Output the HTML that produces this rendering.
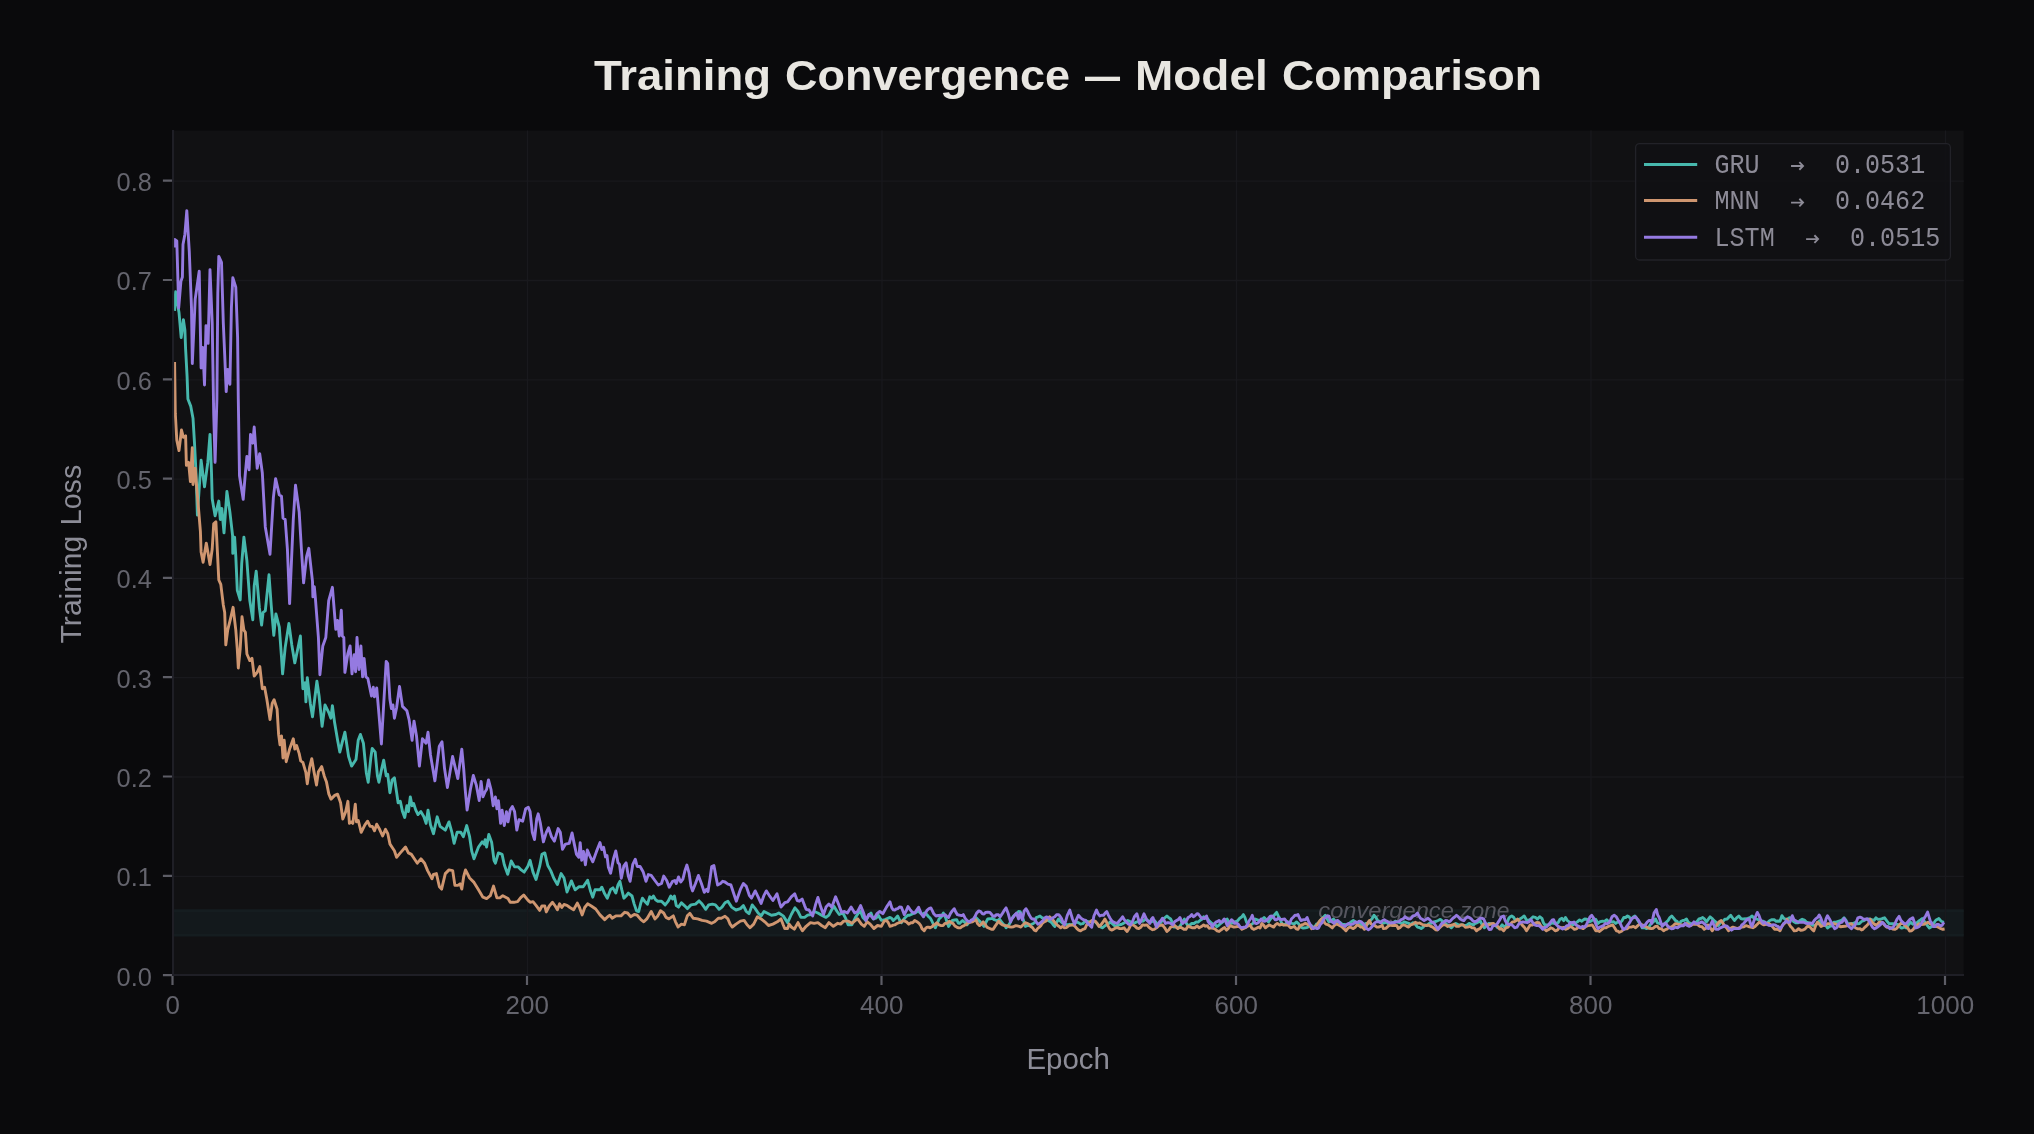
<!DOCTYPE html>
<html><head><meta charset="utf-8"><title>Training Convergence</title>
<style>
html,body{margin:0;padding:0;background:#0a0a0c;}
body{width:2034px;height:1134px;overflow:hidden;font-family:"Liberation Sans",sans-serif;}
svg{display:block;will-change:transform;}
text{font-family:"Liberation Sans",sans-serif;}
.mono{font-family:"Liberation Mono",monospace;}
</style></head><body>
<svg width="2034" height="1134" viewBox="0 0 2034 1134">
<rect x="0" y="0" width="2034" height="1134" fill="#0a0a0c"/>
<rect x="173.0" y="130.6" width="1790.7" height="845.0" fill="#111113"/>

<rect x="173.0" y="910.6" width="1790.7" height="24.7" fill="#13191c"/>
<path d="M173.0 910.6H1963.7M173.0 935.3H1963.7" stroke="#151d20" stroke-width="2.6" fill="none"/>
<path d="M527.5 130.6V975.6M882.0 130.6V975.6M1236.5 130.6V975.6M1591.0 130.6V975.6M1945.5 130.6V975.6M173.0 876.3H1963.7M173.0 777.0H1963.7M173.0 677.7H1963.7M173.0 578.4H1963.7M173.0 479.1H1963.7M173.0 379.8H1963.7M173.0 280.5H1963.7M173.0 181.2H1963.7" stroke="#19191d" stroke-width="1.3" fill="none"/>
<text x="1318.3" y="917.7" font-size="21.2" font-style="italic" fill="#56565f" textLength="135.5" lengthAdjust="spacingAndGlyphs">convergence</text>
<text x="1460.0" y="917.7" font-size="21.2" font-style="italic" fill="#56565f" textLength="49.5" lengthAdjust="spacingAndGlyphs">zone</text>
<g fill="none" stroke-width="2.9" stroke-linejoin="round" stroke-linecap="butt">
<path d="M174.6 310.9 L175.6 291.8 L179.0 312.4 L181.2 337.5 L183.4 319.8 L184.9 330.1 L185.6 348.8 L187.1 376.9 L187.9 399.0 L190.8 406.4 L193.0 418.2 L194.5 443.2 L196.0 472.7 L197.4 515.1 L201.1 460.2 L204.5 486.8 L207.8 462.4 L210.0 434.4 L211.5 472.7 L212.2 498.8 L215.1 515.8 L218.8 501.1 L220.3 519.5 L221.8 508.4 L224.0 532.8 L226.9 491.5 L229.9 512.1 L232.6 535.7 L232.8 553.4 L234.6 537.2 L235.8 556.4 L237.3 590.3 L240.2 599.9 L241.7 563.7 L243.9 537.2 L246.9 560.8 L249.8 600.6 L252.8 619.8 L254.2 585.9 L256.2 571.1 L259.4 608.0 L261.6 625.0 L263.1 612.4 L265.3 610.9 L269.0 574.8 L271.2 605.0 L273.8 635.3 L275.9 613.9 L279.3 627.2 L281.5 657.0 L282.6 673.9 L285.2 647.4 L288.9 623.5 L291.8 644.9 L294.8 662.9 L297.7 649.3 L300.4 636.0 L302.2 676.9 L302.9 688.7 L305.1 682.8 L305.9 701.9 L307.3 677.6 L310.3 703.4 L312.5 716.7 L314.7 699.0 L316.9 681.3 L319.1 696.0 L322.1 726.3 L325.0 704.9 L328.7 712.3 L330.9 718.2 L332.4 705.6 L334.6 722.6 L337.6 740.3 L339.8 752.1 L342.7 740.3 L344.9 732.2 L348.6 756.5 L351.6 766.1 L356.0 759.5 L358.2 740.3 L360.4 734.4 L363.4 743.2 L366.3 772.7 L368.2 782.3 L370.8 758.0 L372.2 748.4 L375.2 752.1 L377.4 775.7 L378.9 782.3 L381.8 768.3 L383.7 760.2 L386.2 775.7 L387.7 774.2 L389.9 792.7 L392.1 780.1 L394.4 777.7 L396.6 792.4 L398.1 802.8 L400.3 801.3 L402.5 811.6 L404.7 817.5 L406.9 805.7 L408.4 811.6 L410.3 796.9 L412.1 805.7 L413.6 803.5 L415.8 810.1 L418.0 814.6 L420.9 811.6 L423.9 816.8 L426.1 823.4 L428.0 810.1 L430.5 824.9 L433.5 833.7 L437.2 816.8 L440.1 826.4 L445.3 830.1 L449.0 821.9 L451.9 832.3 L454.1 843.3 L457.1 832.3 L460.8 832.3 L463.4 836.7 L466.7 825.6 L469.6 836.7 L471.8 851.4 L474.0 858.8 L478.5 847.0 L482.2 841.9 L484.4 844.1 L485.1 839.6 L486.6 847.0 L488.8 834.5 L491.7 842.6 L494.0 860.3 L495.4 863.2 L498.4 852.9 L502.1 854.4 L504.3 864.7 L507.7 874.3 L511.2 861.0 L514.6 866.9 L518.3 866.9 L521.2 869.9 L524.2 872.1 L527.9 866.2 L530.1 860.3 L533.0 872.1 L536.0 879.5 L539.7 866.2 L541.9 854.4 L544.8 852.9 L547.8 865.5 L550.7 870.6 L553.7 878.0 L557.4 884.6 L561.1 873.6 L564.0 878.0 L567.0 892.0 L571.4 880.9 L575.1 889.8 L578.8 886.8 L583.2 886.8 L587.6 880.2 L590.6 891.3 L592.8 897.2 L595.0 889.8 L600.0 889.8 L601.8 887.2 L604.7 893.8 L607.3 898.2 L610.6 889.4 L612.9 887.9 L615.8 893.1 L618.0 885.0 L619.9 881.3 L621.7 889.4 L623.9 898.2 L626.1 896.0 L628.3 893.1 L632.0 896.0 L634.2 904.1 L636.5 910.8 L638.7 911.5 L640.9 902.7 L642.4 898.2 L644.6 901.2 L647.5 904.1 L649.7 896.8 L651.9 898.2 L653.4 896.0 L655.6 899.7 L657.8 901.2 L661.5 901.2 L665.2 904.9 L668.2 901.2 L670.8 896.0 L672.6 899.0 L674.4 896.0 L676.3 905.6 L678.5 907.1 L681.4 902.7 L684.4 905.6 L687.3 908.6 L691.0 904.9 L695.5 904.1 L699.1 900.9 L702.1 904.1 L705.8 909.3 L708.7 904.9 L712.4 904.1 L715.4 904.9 L719.1 909.3 L722.0 907.1 L725.0 902.7 L727.9 901.2 L731.6 907.1 L736.0 910.0 L740.4 908.6 L743.4 905.6 L746.3 911.5 L749.0 913.7 L752.2 904.9 L755.2 908.6 L758.1 913.0 L761.1 915.9 L764.0 911.5 L767.0 913.0 L771.4 915.2 L775.8 914.5 L778.8 913.0 L783.2 915.9 L787.6 922.6 L791.3 914.5 L795.0 907.8 L798.0 911.5 L800.9 917.4 L804.6 917.4 L807.6 915.2 L811.2 914.5 L814.2 911.5 L817.9 913.0 L821.6 915.2 L826.0 917.4 L828.9 915.2 L831.9 909.3 L834.1 906.4 L837.1 911.5 L839.3 914.5 L842.9 913.0 L845.9 918.9 L848.1 924.8 L851.8 924.8 L855.5 917.4 L858.4 913.0 L860.6 911.5 L862.9 917.4 L865.8 920.4 L869.5 914.5 L871.0 913.0 L873.2 918.9 L876.1 918.2 L878.3 915.2 L881.3 920.4 L885.0 919.6 L890.0 917.4 L891.6 918.3 L893.3 920.5 L895.5 918.5 L897.7 916.0 L899.5 919.9 L901.4 922.7 L903.6 919.5 L905.8 916.8 L907.7 915.3 L909.5 915.3 L911.7 914.2 L913.9 913.1 L916.1 912.3 L918.3 910.9 L920.6 913.3 L922.8 914.6 L924.2 913.1 L926.5 914.3 L928.7 916.8 L930.1 917.9 L931.6 920.5 L933.5 924.5 L935.3 927.8 L937.2 923.7 L939.0 919.0 L941.2 916.9 L943.4 913.1 L945.6 917.5 L947.1 922.5 L948.6 926.4 L950.4 923.4 L952.3 920.5 L954.5 920.0 L956.7 919.7 L958.2 923.0 L959.6 923.4 L961.1 921.8 L962.6 920.5 L964.8 922.3 L967.0 924.9 L969.2 922.1 L971.4 920.5 L973.7 919.0 L975.9 917.5 L978.1 919.8 L980.3 921.9 L982.1 924.0 L984.0 926.4 L985.8 922.7 L987.7 919.0 L989.9 918.8 L992.1 918.3 L994.3 919.7 L996.5 920.5 L998.0 920.3 L999.5 919.0 L1001.3 921.7 L1003.2 924.2 L1004.6 925.0 L1006.1 927.8 L1007.9 926.0 L1009.8 923.4 L1011.6 919.0 L1013.5 916.0 L1015.3 914.5 L1017.2 913.1 L1018.6 911.5 L1020.1 911.6 L1021.6 915.3 L1023.1 919.0 L1025.3 926.4 L1027.1 925.6 L1029.0 925.6 L1031.2 924.6 L1033.4 923.4 L1034.9 922.3 L1036.3 917.5 L1038.2 916.8 L1040.0 916.0 L1041.9 917.6 L1043.7 918.3 L1045.9 918.6 L1048.1 920.5 L1050.0 921.4 L1051.8 922.7 L1053.3 924.9 L1054.8 926.4 L1056.6 922.6 L1058.5 919.0 L1060.7 921.4 L1062.9 923.4 L1065.1 924.2 L1067.3 924.9 L1069.5 924.3 L1071.7 924.9 L1074.0 923.7 L1076.2 921.9 L1078.4 922.6 L1080.6 924.2 L1082.8 923.7 L1085.0 921.2 L1087.2 921.3 L1089.4 921.9 L1091.7 921.6 L1093.9 920.5 L1096.1 922.7 L1098.3 924.9 L1100.5 926.9 L1102.7 927.8 L1104.6 926.0 L1106.4 924.9 L1108.2 924.0 L1110.1 921.9 L1112.3 923.7 L1114.5 925.6 L1116.7 926.0 L1118.9 924.9 L1121.2 924.5 L1123.4 923.4 L1125.6 922.0 L1127.8 920.5 L1130.0 921.5 L1132.2 923.4 L1134.4 923.1 L1136.6 921.9 L1138.8 921.8 L1141.1 921.2 L1143.3 921.0 L1145.5 919.0 L1147.7 920.3 L1149.9 921.9 L1152.1 921.5 L1154.3 920.5 L1156.5 923.0 L1158.8 924.9 L1161.0 922.1 L1163.2 919.0 L1165.0 917.6 L1166.9 916.0 L1168.7 917.6 L1170.6 919.0 L1172.4 922.7 L1174.2 927.1 L1176.1 926.9 L1177.9 927.8 L1180.0 926.4 L1182.2 922.4 L1184.4 919.0 L1185.9 922.4 L1187.4 924.9 L1189.6 925.4 L1191.8 923.4 L1194.0 923.5 L1196.2 921.9 L1198.1 922.1 L1199.9 920.5 L1201.8 919.3 L1203.6 916.8 L1205.4 918.1 L1207.3 918.3 L1209.1 920.6 L1211.0 922.7 L1213.2 924.4 L1215.4 924.9 L1216.9 926.7 L1218.3 925.6 L1220.6 923.5 L1222.8 921.9 L1225.0 919.9 L1227.2 919.0 L1229.0 922.8 L1230.9 923.4 L1233.1 922.9 L1235.3 921.9 L1237.5 920.9 L1239.7 918.3 L1241.6 917.1 L1243.4 914.6 L1244.9 917.4 L1246.4 921.9 L1248.6 925.4 L1250.8 924.9 L1253.0 923.4 L1255.2 919.0 L1257.4 919.9 L1259.6 920.5 L1261.9 919.6 L1264.1 917.5 L1266.3 919.8 L1268.5 921.9 L1270.7 918.7 L1272.9 916.8 L1274.8 914.5 L1276.6 912.4 L1278.1 915.6 L1279.6 918.3 L1281.4 922.5 L1283.2 924.9 L1285.5 924.0 L1287.7 921.9 L1289.9 922.7 L1292.1 923.4 L1294.3 923.8 L1296.5 921.9 L1298.7 923.9 L1300.9 927.1 L1303.2 928.1 L1305.4 927.8 L1307.6 927.3 L1309.8 924.9 L1312.0 926.1 L1314.2 927.8 L1316.4 924.2 L1318.6 923.4 L1320.9 919.7 L1323.1 917.5 L1325.3 915.3 L1327.1 918.8 L1329.0 921.9 L1331.2 920.9 L1333.4 919.0 L1335.6 921.7 L1337.8 921.9 L1340.0 922.2 L1342.2 924.2 L1344.5 924.5 L1346.7 924.9 L1348.9 923.9 L1351.1 921.9 L1353.3 920.5 L1355.1 921.8 L1357.0 923.4 L1359.2 922.3 L1361.4 924.9 L1363.6 924.8 L1365.8 923.4 L1368.1 923.8 L1370.3 920.5 L1372.1 918.7 L1374.0 915.3 L1375.8 917.2 L1377.6 920.5 L1379.9 921.6 L1382.1 923.4 L1384.3 922.9 L1386.5 921.9 L1388.7 924.7 L1390.9 923.4 L1393.1 922.8 L1395.3 921.2 L1397.6 922.0 L1399.8 922.7 L1402.0 923.6 L1404.2 921.9 L1406.4 922.6 L1408.6 923.4 L1410.8 924.5 L1413.0 922.7 L1415.3 924.3 L1417.5 927.1 L1419.3 927.5 L1421.2 928.6 L1423.0 927.3 L1424.8 924.9 L1427.1 925.3 L1429.3 923.4 L1431.5 923.2 L1433.7 921.9 L1435.9 921.5 L1438.1 920.5 L1440.3 919.4 L1442.5 921.2 L1444.7 922.5 L1447.0 924.9 L1449.2 925.9 L1451.4 927.8 L1453.6 925.2 L1455.8 923.4 L1458.0 924.6 L1460.2 924.9 L1462.4 925.0 L1464.7 925.6 L1466.9 925.2 L1469.1 923.4 L1471.3 924.2 L1473.5 924.9 L1475.1 923.5 L1476.8 922.8 L1478.4 921.9 L1480.0 920.5 L1482.2 924.8 L1484.4 927.8 L1486.6 925.3 L1488.8 923.4 L1491.1 924.0 L1493.3 924.9 L1495.5 925.3 L1497.7 927.8 L1499.9 927.7 L1502.1 924.9 L1504.0 926.8 L1505.8 926.4 L1507.3 922.2 L1508.8 918.3 L1510.2 916.8 L1511.7 916.0 L1513.6 917.3 L1515.4 920.5 L1517.6 919.9 L1519.8 919.0 L1522.0 917.7 L1524.2 916.0 L1526.5 920.0 L1528.7 920.5 L1530.9 918.8 L1533.1 916.8 L1535.3 917.3 L1537.5 919.0 L1539.7 916.7 L1541.9 918.3 L1543.4 922.7 L1544.9 924.9 L1547.1 925.0 L1549.3 924.9 L1551.5 922.9 L1553.7 923.4 L1556.0 923.2 L1558.2 922.7 L1560.0 919.2 L1561.9 918.3 L1563.7 920.7 L1565.5 917.5 L1567.4 920.6 L1569.2 921.9 L1571.1 923.9 L1572.9 924.9 L1575.1 923.3 L1577.3 921.9 L1579.6 919.9 L1581.8 921.2 L1583.2 920.0 L1584.7 919.0 L1586.9 919.2 L1589.1 921.9 L1591.4 920.9 L1593.6 919.0 L1595.8 919.5 L1598.0 923.4 L1600.2 921.6 L1602.4 921.2 L1604.6 921.4 L1606.8 919.7 L1609.1 922.2 L1611.3 921.9 L1613.5 921.7 L1615.7 923.4 L1617.9 921.8 L1620.1 922.7 L1622.0 920.8 L1623.8 917.5 L1625.6 917.5 L1627.5 916.0 L1629.3 917.1 L1631.2 919.7 L1633.0 917.3 L1634.9 916.0 L1636.7 918.4 L1638.6 921.9 L1640.4 923.9 L1642.2 927.8 L1644.5 927.7 L1646.7 928.6 L1648.9 927.0 L1651.1 923.4 L1653.3 921.8 L1655.5 919.0 L1657.4 922.9 L1659.2 923.4 L1661.4 924.1 L1663.6 924.9 L1665.8 922.6 L1668.1 920.5 L1669.9 917.5 L1671.7 916.0 L1673.6 918.2 L1675.4 920.5 L1677.3 921.6 L1679.1 924.9 L1681.0 921.3 L1682.8 920.5 L1684.6 920.3 L1686.5 919.0 L1688.3 922.4 L1690.2 923.4 L1692.4 923.7 L1694.6 922.7 L1696.8 921.9 L1699.0 919.0 L1700.9 918.5 L1702.7 917.5 L1704.6 919.2 L1706.4 921.9 L1708.2 919.4 L1710.1 916.8 L1711.9 918.3 L1713.8 920.5 L1716.0 922.2 L1718.2 925.6 L1720.4 922.4 L1722.6 921.9 L1724.8 919.3 L1727.1 919.0 L1728.9 917.1 L1730.7 915.3 L1732.6 918.0 L1734.4 920.5 L1736.6 917.9 L1738.8 916.0 L1741.1 918.7 L1743.3 919.0 L1745.5 918.8 L1747.7 918.3 L1749.9 917.6 L1752.1 916.0 L1754.3 918.5 L1756.5 919.0 L1758.8 919.8 L1761.0 921.9 L1763.2 921.1 L1765.4 923.4 L1767.6 922.5 L1769.8 920.5 L1772.0 919.6 L1774.2 919.7 L1776.2 921.3 L1778.1 921.0 L1780.0 921.2 L1781.9 915.7 L1783.7 918.3 L1785.6 919.3 L1787.4 919.2 L1789.2 917.8 L1791.3 918.0 L1793.5 921.5 L1795.7 922.8 L1797.8 922.9 L1800.0 920.6 L1802.2 919.3 L1804.4 920.1 L1806.5 922.2 L1808.7 922.9 L1810.9 924.4 L1813.0 925.3 L1815.2 925.1 L1817.4 923.6 L1819.5 920.7 L1821.7 923.7 L1823.9 925.1 L1825.7 925.2 L1827.5 928.0 L1829.7 926.4 L1831.8 925.8 L1834.0 922.1 L1836.2 922.2 L1838.3 921.4 L1840.5 920.7 L1842.3 919.8 L1844.1 917.8 L1845.9 920.1 L1847.7 923.6 L1849.9 923.8 L1852.1 923.6 L1853.9 923.1 L1855.7 922.2 L1857.5 923.7 L1859.3 923.6 L1861.5 921.5 L1863.6 920.7 L1865.8 919.4 L1868.0 919.3 L1870.2 919.0 L1872.3 920.0 L1874.1 920.3 L1875.9 917.8 L1878.1 919.4 L1880.3 919.3 L1882.4 918.5 L1884.6 917.8 L1886.8 920.9 L1889.0 923.6 L1891.1 923.7 L1893.3 923.6 L1895.5 924.2 L1897.6 924.4 L1899.4 926.0 L1901.2 928.0 L1902.9 927.7 L1904.6 927.0 L1906.3 928.0 L1908.5 924.6 L1910.6 922.2 L1912.8 924.2 L1915.0 923.6 L1917.2 922.6 L1919.3 920.7 L1920.8 919.7 L1922.2 918.6 L1924.0 920.9 L1925.8 923.6 L1927.6 925.8 L1929.4 928.0 L1931.3 926.8 L1933.1 925.1 L1934.5 922.0 L1936.0 920.0 L1937.4 919.4 L1938.8 918.6 L1940.3 920.2 L1941.7 921.5 L1943.9 922.3" stroke="#47b8ad"/>
<path d="M174.6 362.1 L175.3 413.7 L176.8 440.3 L179.0 450.6 L181.5 430.0 L183.4 437.3 L185.6 435.9 L186.4 465.4 L188.6 462.4 L190.4 481.6 L192.3 447.7 L193.0 484.5 L195.2 468.3 L196.7 487.5 L198.2 504.7 L200.4 531.3 L201.1 551.9 L203.1 562.3 L206.3 543.1 L210.0 564.5 L212.2 549.0 L213.7 523.9 L215.9 521.7 L217.4 551.9 L218.8 580.0 L220.8 584.4 L223.3 605.0 L224.7 612.4 L225.8 644.9 L227.7 630.1 L230.6 618.3 L233.1 607.3 L235.8 630.1 L237.3 649.3 L238.3 668.0 L240.2 648.8 L242.0 616.8 L243.9 630.1 L245.4 632.3 L246.9 654.0 L249.8 660.6 L252.0 658.4 L254.2 676.1 L257.2 672.4 L259.8 666.5 L262.3 688.7 L264.6 687.2 L266.8 699.0 L270.0 719.6 L272.2 703.4 L274.1 699.7 L277.1 709.3 L278.6 734.4 L280.0 744.7 L281.5 735.9 L283.0 758.0 L284.2 740.3 L286.2 761.7 L289.6 749.1 L293.3 738.8 L294.8 749.1 L296.6 745.5 L299.2 753.6 L300.7 760.9 L302.9 762.4 L305.9 772.7 L307.3 783.8 L309.6 767.4 L311.8 758.7 L314.0 771.8 L316.5 785.1 L318.4 771.8 L321.7 766.6 L324.3 776.2 L326.5 782.1 L328.8 793.9 L331.0 799.1 L334.7 795.4 L337.6 794.2 L340.6 802.8 L342.8 819.0 L345.7 811.6 L347.9 801.3 L349.4 823.4 L351.6 821.9 L352.8 823.4 L355.3 804.2 L356.5 821.9 L358.3 820.5 L361.2 832.3 L364.9 824.9 L367.6 821.2 L370.1 826.4 L372.3 826.4 L374.5 830.8 L376.7 824.2 L379.6 829.3 L382.6 836.0 L385.5 829.3 L387.8 833.7 L390.0 844.1 L392.9 848.5 L394.4 850.7 L396.6 857.3 L400.3 852.9 L405.5 847.0 L408.4 852.9 L411.4 854.4 L414.3 858.8 L417.3 863.2 L420.9 858.8 L424.6 863.2 L427.6 870.6 L432.0 878.7 L433.5 874.3 L436.4 873.6 L439.4 886.8 L441.6 889.1 L445.3 873.6 L449.0 869.9 L452.7 870.6 L454.9 885.4 L457.8 885.4 L460.0 883.9 L461.8 889.1 L463.7 876.5 L465.5 869.9 L469.6 878.0 L474.0 882.4 L478.5 889.8 L482.9 897.2 L486.6 898.6 L490.3 895.7 L493.5 886.1 L496.9 897.9 L499.9 897.9 L502.8 895.7 L508.0 898.6 L510.2 902.3 L513.9 902.3 L517.6 901.6 L520.5 897.9 L523.7 895.0 L527.9 900.1 L530.1 902.3 L533.0 901.6 L536.0 905.3 L539.7 910.4 L541.9 906.0 L544.8 906.0 L546.3 911.9 L549.3 906.0 L552.5 902.3 L555.2 906.0 L557.4 909.7 L559.6 903.8 L561.8 907.5 L564.0 904.5 L567.0 905.3 L569.9 907.5 L573.6 909.7 L577.3 903.1 L579.5 907.5 L582.2 914.9 L584.7 907.5 L587.6 903.8 L591.3 906.0 L595.7 909.0 L600.0 914.9 L602.5 917.4 L604.7 919.6 L607.7 916.7 L609.9 915.2 L612.1 918.2 L615.8 915.9 L621.0 915.9 L624.7 912.3 L627.6 913.0 L630.6 916.7 L634.2 914.5 L637.2 915.2 L640.9 919.6 L643.8 921.8 L646.8 918.9 L651.2 911.5 L654.9 918.9 L657.8 915.9 L660.5 910.8 L663.7 913.0 L666.0 917.4 L668.9 918.9 L673.3 915.9 L675.5 921.8 L678.1 927.0 L681.4 924.1 L684.4 924.8 L687.3 915.9 L689.9 913.4 L693.2 918.2 L697.7 918.9 L702.1 920.4 L706.5 921.1 L711.7 923.3 L714.6 921.8 L718.3 918.2 L721.3 918.2 L725.0 916.2 L727.9 918.9 L730.1 924.1 L732.3 927.0 L736.0 924.1 L740.4 921.1 L744.1 920.4 L747.1 924.8 L750.0 927.7 L753.7 924.1 L757.4 916.7 L761.1 918.9 L764.8 921.8 L768.5 925.5 L772.9 924.1 L777.3 921.8 L781.0 918.9 L783.2 924.8 L784.7 928.5 L787.6 928.5 L789.1 924.1 L791.3 927.0 L794.3 929.2 L798.0 922.6 L800.2 927.0 L802.4 930.7 L806.1 926.3 L810.5 922.6 L814.2 923.3 L817.9 922.6 L821.6 925.5 L825.3 927.7 L828.9 922.6 L833.4 926.3 L837.8 923.3 L840.7 924.1 L843.7 921.1 L848.1 921.1 L851.8 923.3 L855.5 920.4 L857.7 918.9 L861.4 924.1 L864.3 926.3 L867.3 921.8 L870.2 924.1 L873.9 928.5 L877.6 925.5 L881.3 926.3 L884.2 921.1 L886.5 920.4 L888.2 922.5 L890.0 926.3 L891.6 925.9 L893.2 925.2 L894.7 924.9 L897.0 923.5 L899.2 922.7 L901.0 922.1 L902.9 920.5 L904.7 921.2 L906.5 921.9 L908.8 924.2 L910.7 922.8 L912.7 922.7 L914.7 920.5 L916.9 921.7 L919.1 923.4 L920.6 925.3 L922.0 928.6 L924.2 930.8 L925.7 928.2 L927.2 927.1 L928.7 927.2 L930.1 927.8 L932.0 926.7 L933.8 924.9 L935.3 924.3 L936.8 922.7 L939.0 924.8 L941.2 925.6 L943.1 925.5 L944.9 923.4 L947.1 923.3 L949.3 921.2 L951.2 922.7 L953.0 923.4 L954.9 926.0 L956.7 927.1 L958.5 927.9 L960.4 927.8 L962.2 926.4 L964.1 925.6 L965.9 924.6 L967.8 922.7 L970.0 922.4 L972.2 921.9 L974.0 920.8 L975.9 919.7 L977.7 923.8 L979.6 925.6 L981.4 924.2 L983.2 921.9 L985.1 924.3 L986.9 927.1 L989.1 928.2 L991.4 929.3 L993.2 929.2 L995.0 926.4 L996.9 923.7 L998.7 921.2 L1000.6 923.5 L1002.4 924.9 L1004.6 925.6 L1006.8 925.6 L1009.1 926.7 L1011.3 927.1 L1013.5 926.7 L1015.7 925.6 L1017.4 925.9 L1019.1 926.4 L1020.9 927.1 L1023.1 924.8 L1025.3 922.7 L1027.1 923.3 L1029.0 924.2 L1030.8 926.5 L1032.7 927.8 L1034.3 930.2 L1035.9 930.8 L1037.6 928.5 L1039.3 927.1 L1040.8 925.6 L1042.2 923.4 L1044.1 921.8 L1045.9 921.2 L1047.8 918.6 L1049.6 916.8 L1051.5 918.5 L1053.3 920.5 L1055.1 922.8 L1057.0 924.9 L1058.8 926.2 L1060.7 927.8 L1062.5 926.4 L1064.4 927.8 L1066.6 927.5 L1068.8 925.6 L1071.0 925.1 L1073.2 924.9 L1075.1 926.4 L1076.9 928.6 L1078.7 930.1 L1080.6 930.8 L1082.8 929.4 L1085.0 928.6 L1086.5 925.2 L1088.0 923.4 L1089.8 922.3 L1091.7 920.5 L1093.5 921.1 L1095.3 921.2 L1097.2 923.4 L1099.0 926.4 L1100.5 925.4 L1102.0 923.4 L1103.5 921.4 L1104.9 919.0 L1106.4 921.7 L1107.9 925.6 L1109.7 928.9 L1111.6 930.1 L1113.8 929.1 L1116.0 927.8 L1117.8 927.6 L1119.7 928.6 L1121.9 928.5 L1124.1 927.8 L1125.6 929.8 L1127.1 931.5 L1128.9 928.8 L1130.7 924.9 L1132.9 924.9 L1135.2 926.4 L1137.0 928.1 L1138.8 928.6 L1140.7 927.3 L1142.5 924.9 L1144.7 925.3 L1147.0 924.9 L1148.8 927.1 L1150.6 928.6 L1152.5 929.7 L1154.3 929.3 L1156.5 927.9 L1158.8 925.6 L1160.6 925.4 L1162.4 924.9 L1164.7 927.8 L1166.9 931.5 L1168.7 930.0 L1170.6 927.1 L1172.4 926.6 L1174.2 924.9 L1176.1 926.9 L1177.9 928.6 L1180.0 927.1 L1182.0 928.0 L1183.9 929.2 L1185.9 929.3 L1188.1 926.2 L1190.3 927.1 L1192.5 927.8 L1194.7 927.8 L1197.0 925.9 L1199.2 927.8 L1201.4 926.6 L1203.6 924.9 L1205.4 926.2 L1207.3 925.6 L1209.1 928.3 L1211.0 927.8 L1213.2 928.2 L1215.4 929.3 L1217.2 930.8 L1219.1 931.5 L1220.9 930.0 L1222.8 928.6 L1224.6 927.6 L1226.5 930.1 L1228.3 928.5 L1230.1 925.6 L1232.0 926.4 L1233.8 927.1 L1236.0 926.8 L1238.3 926.4 L1240.1 927.1 L1241.9 929.3 L1244.2 928.2 L1246.4 927.1 L1248.2 926.1 L1250.1 924.9 L1251.9 928.2 L1253.7 929.3 L1256.0 928.5 L1258.2 927.1 L1260.0 928.1 L1261.9 923.4 L1263.7 925.3 L1265.5 927.8 L1267.4 926.2 L1269.2 924.9 L1271.4 926.0 L1273.7 927.1 L1275.5 924.6 L1277.3 923.4 L1279.6 925.1 L1281.8 924.2 L1284.0 925.1 L1286.2 924.9 L1288.4 925.4 L1290.6 927.8 L1292.5 927.2 L1294.3 926.4 L1296.2 928.8 L1298.0 929.3 L1299.8 926.0 L1301.7 924.9 L1303.5 924.3 L1305.4 923.4 L1307.6 924.4 L1309.8 925.6 L1311.6 928.7 L1313.5 927.8 L1315.3 926.7 L1317.2 924.9 L1318.6 922.4 L1320.1 920.5 L1321.6 918.9 L1323.1 918.3 L1324.5 922.8 L1326.0 924.2 L1328.2 924.9 L1330.4 926.4 L1332.3 927.9 L1334.1 925.6 L1336.3 924.0 L1338.6 924.9 L1340.4 925.9 L1342.2 927.1 L1344.1 928.8 L1345.9 930.8 L1347.8 928.4 L1349.6 927.1 L1351.5 927.7 L1353.3 928.6 L1355.1 927.3 L1357.0 924.9 L1358.8 925.5 L1360.7 927.1 L1362.5 927.1 L1364.4 929.3 L1365.8 927.5 L1367.3 923.4 L1369.5 920.5 L1371.0 923.9 L1372.5 924.9 L1374.7 925.5 L1376.9 927.1 L1378.7 927.0 L1380.6 926.4 L1382.1 925.4 L1383.5 928.6 L1385.8 928.4 L1388.0 926.4 L1390.2 925.0 L1392.4 925.6 L1394.6 925.2 L1396.8 925.6 L1398.3 928.5 L1399.8 927.8 L1402.0 925.4 L1404.2 924.9 L1406.4 926.1 L1408.6 927.1 L1410.8 924.8 L1413.0 924.2 L1415.3 922.3 L1417.5 923.4 L1419.7 922.9 L1421.9 924.2 L1424.1 925.2 L1426.3 925.6 L1428.5 925.0 L1430.7 926.4 L1432.6 927.0 L1434.4 928.6 L1435.9 929.9 L1437.4 930.1 L1439.2 928.1 L1441.1 926.4 L1443.3 924.6 L1445.5 924.9 L1447.7 926.5 L1449.9 925.6 L1452.1 925.0 L1454.3 924.2 L1456.5 926.4 L1458.8 926.4 L1461.0 924.8 L1463.2 924.9 L1465.4 927.4 L1467.6 927.1 L1469.8 926.4 L1472.0 927.8 L1474.2 927.9 L1476.5 930.8 L1478.2 929.4 L1480.0 928.6 L1482.2 925.7 L1484.4 923.4 L1486.6 924.4 L1488.8 924.9 L1491.1 923.7 L1493.3 923.4 L1495.5 925.4 L1497.7 926.4 L1499.7 929.0 L1501.6 928.8 L1503.6 930.8 L1505.8 927.9 L1508.0 927.1 L1510.2 924.2 L1512.4 921.9 L1514.2 921.7 L1515.9 920.7 L1517.6 919.0 L1519.8 921.7 L1522.0 924.9 L1524.2 927.1 L1526.5 930.8 L1528.3 927.9 L1530.1 924.9 L1532.4 925.0 L1534.6 923.4 L1536.8 922.5 L1539.0 922.7 L1541.2 926.4 L1543.4 927.8 L1544.9 929.5 L1546.4 930.8 L1548.6 929.6 L1550.8 927.8 L1553.0 928.8 L1555.2 930.8 L1557.4 930.1 L1559.6 927.1 L1561.6 927.9 L1563.6 927.4 L1565.5 929.3 L1567.8 928.5 L1570.0 926.4 L1572.2 927.5 L1574.4 929.3 L1576.6 928.8 L1578.8 926.4 L1581.0 927.6 L1583.2 928.6 L1585.5 926.6 L1587.7 925.6 L1589.9 925.4 L1592.1 924.9 L1593.9 927.5 L1595.8 930.8 L1597.6 930.5 L1599.5 931.5 L1601.7 929.7 L1603.9 927.8 L1606.1 927.8 L1608.3 926.4 L1610.5 925.7 L1612.7 924.9 L1614.6 927.8 L1616.4 930.8 L1617.9 931.1 L1619.4 932.3 L1621.6 931.3 L1623.8 929.3 L1625.5 928.8 L1627.2 928.7 L1629.0 927.1 L1631.2 927.1 L1633.4 926.4 L1635.6 927.8 L1637.8 925.6 L1640.0 924.0 L1642.2 924.9 L1644.5 926.0 L1646.7 927.1 L1648.9 928.3 L1651.1 928.6 L1653.3 928.2 L1655.5 926.4 L1657.4 926.3 L1659.2 928.6 L1661.4 928.7 L1663.6 930.8 L1665.3 929.6 L1667.1 929.2 L1668.8 927.1 L1671.0 927.3 L1673.2 925.6 L1675.4 923.7 L1677.6 924.2 L1679.9 924.7 L1682.1 924.9 L1684.3 925.1 L1686.5 923.4 L1688.7 924.6 L1690.9 925.6 L1693.1 924.1 L1695.3 924.2 L1697.6 924.7 L1699.8 926.4 L1702.0 926.8 L1704.2 929.3 L1706.0 928.1 L1707.9 924.9 L1710.1 927.7 L1712.3 930.8 L1714.5 927.5 L1716.7 924.9 L1718.9 922.0 L1721.2 920.5 L1723.0 923.3 L1724.8 926.4 L1726.7 927.9 L1728.5 930.8 L1730.7 928.2 L1732.9 927.1 L1735.2 927.8 L1737.4 928.6 L1739.6 927.7 L1741.8 927.1 L1744.0 926.8 L1746.2 925.6 L1748.4 926.5 L1750.6 927.1 L1752.9 927.7 L1755.1 926.4 L1757.3 924.2 L1759.5 921.9 L1761.7 923.7 L1763.9 924.9 L1766.1 924.4 L1768.3 923.4 L1770.6 924.6 L1772.8 927.1 L1774.6 929.2 L1776.5 929.3 L1778.2 929.6 L1780.0 930.8 L1782.1 926.0 L1784.1 923.6 L1785.6 922.5 L1787.0 919.3 L1788.8 923.5 L1790.6 926.5 L1792.4 928.3 L1794.2 930.9 L1796.4 930.6 L1798.6 928.7 L1800.7 930.2 L1802.9 930.1 L1805.1 928.9 L1807.2 926.5 L1809.1 926.3 L1810.9 928.0 L1812.3 929.6 L1813.8 930.9 L1815.6 925.7 L1817.4 922.2 L1819.2 923.9 L1821.0 926.5 L1823.2 925.4 L1825.3 925.1 L1827.5 923.7 L1829.7 923.6 L1831.8 924.1 L1834.0 923.6 L1836.2 924.1 L1838.3 925.8 L1840.5 926.7 L1842.7 926.5 L1844.8 926.3 L1847.0 925.8 L1849.2 924.3 L1851.4 923.6 L1853.5 926.0 L1855.7 928.0 L1857.9 928.9 L1860.0 928.7 L1861.5 930.0 L1862.9 929.4 L1864.7 927.4 L1866.5 925.8 L1868.3 924.0 L1870.2 919.3 L1872.0 922.0 L1873.8 923.6 L1875.6 925.0 L1877.4 924.4 L1879.2 922.2 L1881.0 922.2 L1882.8 922.8 L1884.6 925.1 L1886.8 927.2 L1889.0 927.2 L1890.9 927.8 L1892.8 929.1 L1894.7 929.4 L1896.9 928.2 L1899.1 925.1 L1901.2 923.2 L1903.4 923.6 L1905.6 926.2 L1907.8 928.0 L1909.6 931.0 L1911.4 930.9 L1913.2 929.4 L1915.0 926.5 L1917.2 925.2 L1919.3 923.6 L1921.5 924.5 L1923.7 924.4 L1925.8 923.3 L1928.0 922.2 L1930.2 923.9 L1932.3 924.4 L1934.5 926.5 L1936.7 926.5 L1938.8 927.5 L1941.0 928.7 L1942.8 929.3 L1944.6 929.0" stroke="#cf9670"/>
<path d="M174.1 247.5 L174.7 239.4 L176.8 240.9 L178.7 308.0 L180.9 281.4 L182.4 277.0 L183.0 244.6 L184.9 234.2 L186.8 210.6 L189.3 251.9 L191.5 308.0 L192.3 363.6 L195.2 299.1 L199.2 271.1 L201.1 368.0 L202.8 347.4 L204.5 385.0 L206.0 325.7 L208.1 343.4 L210.0 269.6 L212.2 322.7 L213.7 413.7 L215.1 462.4 L216.9 399.0 L217.8 293.2 L218.8 256.4 L221.5 262.3 L223.3 322.7 L224.7 354.7 L226.2 391.6 L227.7 369.5 L229.9 384.2 L231.4 308.0 L232.8 277.8 L235.8 287.3 L237.6 337.5 L238.3 399.0 L239.5 475.7 L243.2 499.3 L245.4 472.7 L246.9 456.5 L249.1 469.8 L250.5 434.4 L252.8 443.2 L254.2 427.0 L257.2 468.3 L259.7 453.6 L262.3 472.7 L265.3 526.9 L270.0 554.2 L273.4 497.4 L275.6 478.6 L279.3 494.9 L281.5 496.3 L283.0 518.0 L285.2 519.5 L287.4 549.0 L289.6 603.6 L293.3 519.5 L295.5 485.3 L299.2 512.1 L301.4 549.0 L303.6 582.9 L306.6 556.4 L308.8 548.3 L312.5 581.4 L312.9 596.9 L314.3 586.6 L315.4 598.4 L318.4 637.5 L319.9 674.7 L322.8 645.9 L325.8 637.5 L328.7 600.6 L332.4 587.3 L335.8 629.4 L337.6 620.5 L339.3 636.0 L341.3 610.2 L342.3 636.0 L343.8 637.5 L344.9 672.4 L347.9 653.3 L350.1 645.9 L352.0 673.9 L354.2 654.7 L355.6 671.7 L357.0 637.5 L359.0 669.5 L360.9 645.9 L362.6 676.9 L364.1 658.4 L365.9 676.9 L367.8 678.3 L371.5 696.0 L373.3 687.2 L374.4 696.8 L376.7 687.9 L378.9 713.7 L381.4 744.0 L384.0 699.0 L386.2 661.4 L387.7 663.6 L389.9 699.0 L391.4 708.6 L392.9 704.9 L394.4 718.2 L396.6 707.8 L399.5 686.5 L402.5 706.4 L406.9 710.8 L409.1 719.6 L412.1 740.3 L414.0 721.1 L416.5 735.9 L419.4 766.1 L422.4 738.8 L426.1 743.2 L428.0 732.2 L430.5 755.0 L434.9 780.9 L439.3 746.2 L442.0 741.8 L444.5 768.3 L447.4 787.5 L452.6 756.5 L457.8 778.6 L461.8 749.1 L463.7 768.8 L465.2 789.5 L467.1 810.1 L470.4 789.5 L473.3 775.5 L476.3 785.1 L479.2 800.6 L481.1 781.4 L482.9 796.9 L485.1 791.7 L486.6 789.5 L488.5 779.9 L491.0 789.5 L493.2 805.7 L495.4 796.9 L496.9 808.7 L498.4 800.6 L500.6 823.4 L502.1 810.1 L504.3 825.6 L506.5 811.6 L508.0 821.9 L510.2 810.1 L512.4 806.5 L514.6 811.6 L516.8 830.1 L519.0 819.7 L522.7 821.2 L525.7 808.7 L528.3 807.2 L530.1 811.6 L532.3 832.3 L534.5 839.6 L536.7 819.0 L538.2 813.8 L540.4 823.4 L543.4 841.9 L546.3 832.3 L548.5 827.8 L551.5 836.7 L554.4 841.1 L558.1 828.6 L560.3 832.3 L562.5 849.2 L565.5 844.1 L569.2 843.3 L572.1 833.0 L574.3 844.1 L576.5 854.4 L578.8 857.3 L580.2 842.6 L581.7 860.3 L583.5 851.4 L585.4 864.7 L587.3 850.0 L589.8 855.9 L592.8 861.8 L596.5 851.4 L600.0 842.6 L601.8 849.6 L603.6 847.4 L605.5 856.9 L607.0 855.5 L608.4 867.3 L610.6 873.2 L613.6 858.4 L615.8 851.0 L618.0 862.8 L619.5 864.3 L621.3 878.3 L623.9 865.8 L626.1 862.8 L628.3 876.1 L630.1 881.3 L632.8 864.3 L635.3 859.2 L637.2 866.5 L640.1 866.5 L643.1 871.7 L646.0 881.3 L648.3 874.6 L651.2 875.4 L654.9 880.5 L658.3 885.0 L661.5 883.5 L663.7 876.1 L666.7 880.5 L669.2 887.2 L672.6 881.3 L674.8 880.5 L676.3 883.5 L678.5 876.9 L680.7 882.0 L682.9 879.1 L685.1 870.2 L686.9 865.1 L689.1 873.2 L691.0 886.4 L692.5 890.9 L695.5 883.5 L698.4 875.4 L701.4 883.5 L704.3 892.3 L706.5 889.4 L708.0 891.6 L710.2 877.6 L711.7 866.5 L713.9 865.5 L716.1 877.6 L717.6 885.0 L720.5 883.5 L722.7 881.3 L725.0 882.0 L727.9 884.2 L730.9 885.0 L733.8 893.8 L736.3 901.2 L740.4 889.4 L743.4 883.5 L746.3 886.4 L749.3 895.3 L751.5 898.2 L755.2 890.9 L758.1 896.8 L761.1 903.4 L764.0 895.3 L766.3 890.9 L769.2 895.3 L772.9 900.5 L777.0 893.8 L779.5 902.7 L781.0 907.1 L784.7 902.7 L787.6 901.9 L791.3 896.8 L794.7 893.8 L797.2 900.5 L799.4 901.2 L802.1 899.0 L804.6 905.6 L806.1 909.3 L809.0 910.0 L812.7 915.9 L815.7 904.1 L817.9 897.5 L820.8 907.1 L823.5 914.5 L826.0 907.1 L828.9 904.1 L831.9 907.1 L835.6 896.8 L838.5 904.1 L841.5 912.3 L844.4 911.5 L847.4 913.0 L851.1 907.1 L854.7 913.0 L857.7 911.5 L860.6 905.6 L863.6 913.0 L865.8 920.4 L868.8 914.5 L871.0 915.9 L873.9 918.9 L876.9 913.7 L879.8 911.5 L882.8 913.7 L886.5 907.1 L888.2 904.5 L890.0 901.9 L891.8 907.9 L893.3 909.9 L894.7 910.1 L896.2 909.0 L897.7 908.7 L899.5 907.0 L901.4 907.2 L902.9 911.0 L904.3 914.6 L906.2 910.9 L908.0 906.5 L909.9 909.3 L911.7 911.6 L913.2 912.7 L914.7 913.1 L916.7 910.1 L918.6 907.2 L921.3 913.8 L923.5 916.8 L925.4 913.2 L927.2 910.1 L929.0 908.7 L930.9 907.9 L932.4 910.8 L933.8 913.8 L936.0 916.0 L938.3 915.5 L940.5 915.3 L942.7 915.5 L944.9 914.6 L946.7 916.4 L948.6 917.5 L950.4 913.6 L952.3 910.9 L954.2 908.7 L955.8 912.1 L957.4 914.6 L958.9 915.0 L960.4 915.3 L961.9 915.6 L963.3 914.6 L965.2 918.4 L967.0 920.5 L968.5 921.6 L970.0 921.9 L971.4 919.9 L972.9 919.7 L974.8 916.8 L976.6 913.1 L978.8 910.9 L980.7 911.6 L982.5 913.8 L984.0 914.0 L985.5 912.4 L987.7 912.1 L989.9 912.4 L991.4 914.2 L992.8 916.0 L994.7 916.4 L996.5 914.6 L998.4 914.8 L1000.2 916.8 L1002.1 913.9 L1003.9 910.9 L1006.1 907.9 L1008.3 913.8 L1010.5 921.9 L1012.0 918.8 L1013.5 916.8 L1015.0 914.7 L1016.4 913.1 L1018.6 919.0 L1020.1 913.1 L1022.3 919.7 L1024.2 910.9 L1026.0 908.7 L1027.5 911.2 L1029.0 914.6 L1031.2 918.3 L1032.7 919.1 L1034.1 919.0 L1036.0 921.5 L1037.8 924.2 L1039.7 923.3 L1041.5 921.9 L1043.0 920.5 L1044.5 918.3 L1046.3 917.0 L1048.1 917.5 L1049.6 919.1 L1051.1 919.0 L1052.9 917.8 L1054.8 916.8 L1056.6 914.8 L1058.5 914.6 L1059.9 916.1 L1061.4 918.3 L1062.9 922.1 L1064.4 924.9 L1065.8 920.7 L1067.3 915.3 L1069.8 910.1 L1072.5 919.0 L1074.7 924.2 L1076.5 919.4 L1078.4 915.3 L1080.2 917.3 L1082.1 919.0 L1083.9 919.9 L1085.8 920.5 L1087.2 923.0 L1088.7 924.2 L1090.2 925.6 L1091.7 927.1 L1093.9 916.0 L1096.5 910.1 L1098.1 913.7 L1099.8 916.0 L1101.6 915.2 L1103.5 915.3 L1105.1 913.1 L1106.8 911.6 L1108.5 915.4 L1110.1 918.3 L1111.6 920.6 L1113.0 921.9 L1114.9 922.7 L1116.7 923.4 L1118.2 922.3 L1119.7 920.5 L1121.2 918.8 L1122.6 916.8 L1124.5 919.9 L1126.3 921.9 L1128.5 924.1 L1130.7 924.9 L1132.6 921.2 L1134.4 916.8 L1136.9 913.8 L1139.6 923.4 L1141.8 919.2 L1144.0 913.8 L1145.5 917.0 L1147.0 920.5 L1148.4 921.7 L1149.9 923.4 L1151.4 919.2 L1152.9 917.5 L1154.7 922.6 L1156.5 927.1 L1158.0 924.6 L1159.5 921.9 L1161.0 920.5 L1162.4 918.3 L1163.9 919.9 L1165.4 923.4 L1167.2 922.8 L1169.1 922.7 L1170.9 923.5 L1172.8 924.9 L1174.6 921.7 L1176.5 920.5 L1178.2 919.6 L1180.0 917.5 L1181.5 921.6 L1182.9 923.4 L1184.4 921.7 L1185.9 921.9 L1188.1 917.5 L1190.0 916.5 L1191.8 914.6 L1193.3 916.8 L1194.7 916.0 L1197.0 913.8 L1198.4 914.0 L1199.9 916.0 L1201.4 918.1 L1202.9 918.3 L1204.7 918.5 L1206.5 916.0 L1208.0 921.4 L1209.5 923.4 L1211.0 924.2 L1212.4 927.1 L1214.3 923.8 L1216.1 921.9 L1217.6 921.5 L1219.1 920.5 L1220.6 922.3 L1222.0 921.9 L1224.2 919.0 L1225.7 921.4 L1227.2 925.6 L1229.4 922.7 L1231.6 919.7 L1233.1 921.1 L1234.6 923.4 L1236.4 923.0 L1238.3 924.2 L1240.1 927.0 L1241.9 927.8 L1243.8 927.1 L1245.6 927.1 L1247.5 924.4 L1249.3 920.5 L1250.8 918.5 L1252.3 915.3 L1253.7 920.4 L1255.2 923.4 L1256.7 923.5 L1258.2 922.7 L1259.6 921.2 L1261.1 919.0 L1263.0 921.1 L1264.8 921.2 L1266.7 920.2 L1268.5 918.3 L1270.3 916.2 L1272.2 916.0 L1273.7 917.5 L1275.1 919.7 L1276.6 919.8 L1278.1 918.3 L1279.9 919.2 L1281.8 919.7 L1283.2 919.2 L1284.7 919.0 L1286.2 921.1 L1287.7 922.7 L1289.5 923.7 L1291.4 919.0 L1293.2 917.2 L1295.0 915.3 L1296.5 915.4 L1298.0 914.6 L1299.5 918.0 L1300.9 920.5 L1302.4 920.0 L1303.9 919.7 L1305.5 919.7 L1307.1 917.5 L1308.8 922.0 L1310.5 924.9 L1312.0 927.2 L1313.5 928.6 L1315.3 927.6 L1317.2 928.6 L1318.6 927.9 L1320.1 924.9 L1322.0 922.7 L1323.8 919.0 L1325.6 917.5 L1327.5 916.0 L1329.0 916.1 L1330.4 920.5 L1332.3 922.0 L1334.1 923.4 L1336.0 921.0 L1337.8 920.5 L1339.7 922.6 L1341.5 924.9 L1343.3 925.3 L1345.2 926.4 L1347.0 924.3 L1348.9 923.4 L1350.7 924.7 L1352.6 924.2 L1354.0 923.2 L1355.5 921.9 L1357.4 922.7 L1359.2 921.2 L1361.0 921.6 L1362.9 923.4 L1364.7 925.9 L1366.6 928.6 L1368.4 929.8 L1370.3 928.6 L1371.7 927.1 L1373.2 924.9 L1374.7 922.9 L1376.2 921.9 L1378.4 921.7 L1380.6 922.7 L1382.4 920.8 L1384.3 919.7 L1386.1 920.9 L1388.0 921.9 L1390.2 923.0 L1392.4 922.7 L1394.6 922.5 L1396.8 921.9 L1399.0 921.6 L1401.2 919.7 L1403.1 919.0 L1404.9 916.8 L1406.8 918.1 L1408.6 919.0 L1410.8 918.7 L1413.0 916.0 L1415.3 915.3 L1417.5 913.1 L1418.9 915.6 L1420.4 918.3 L1422.3 919.3 L1424.1 920.5 L1425.9 919.4 L1427.8 918.3 L1429.6 919.6 L1431.5 921.9 L1433.3 922.4 L1435.2 924.9 L1436.6 927.2 L1438.1 929.3 L1440.0 926.0 L1441.8 923.4 L1443.6 922.5 L1445.5 920.5 L1447.3 920.8 L1449.2 921.9 L1451.0 920.3 L1452.9 918.3 L1454.7 917.0 L1456.5 915.3 L1458.4 916.9 L1460.2 919.0 L1462.1 920.0 L1463.9 920.5 L1465.8 918.1 L1467.6 916.8 L1469.5 917.6 L1471.3 919.0 L1473.1 921.2 L1475.0 921.9 L1476.7 921.1 L1478.3 919.6 L1480.0 918.3 L1481.8 918.1 L1483.7 919.0 L1485.5 923.3 L1487.4 926.4 L1489.2 929.6 L1491.1 929.3 L1492.9 925.8 L1494.7 925.6 L1496.6 924.7 L1498.4 921.9 L1499.9 919.6 L1501.4 916.8 L1503.6 916.0 L1505.1 920.4 L1506.5 922.7 L1508.4 924.5 L1510.2 924.2 L1512.4 925.3 L1514.7 927.8 L1516.9 927.2 L1519.1 923.4 L1520.9 922.3 L1522.8 921.9 L1525.0 922.2 L1527.2 922.7 L1529.0 921.8 L1530.9 919.7 L1532.7 922.3 L1534.6 924.9 L1536.8 925.6 L1539.0 925.6 L1540.8 927.1 L1542.7 929.3 L1544.5 927.5 L1546.4 927.1 L1548.6 924.6 L1550.8 921.9 L1552.3 920.0 L1553.7 919.7 L1555.2 923.5 L1556.7 924.9 L1558.5 926.7 L1560.4 927.8 L1562.6 929.1 L1564.8 927.8 L1566.7 925.8 L1568.5 925.6 L1570.3 922.5 L1572.2 922.7 L1574.0 922.0 L1575.9 924.9 L1578.1 926.1 L1580.3 927.8 L1582.5 926.5 L1584.7 927.1 L1586.6 924.2 L1588.4 920.5 L1590.0 916.8 L1591.7 915.3 L1593.3 917.6 L1595.0 921.9 L1596.5 925.6 L1598.0 928.6 L1599.8 927.2 L1601.7 926.4 L1603.5 925.5 L1605.4 923.4 L1607.2 923.8 L1609.1 922.7 L1610.5 920.1 L1612.0 916.8 L1614.2 915.3 L1616.1 916.6 L1617.9 919.7 L1619.7 922.4 L1621.6 926.4 L1623.4 929.4 L1625.3 928.6 L1627.1 925.9 L1629.0 923.4 L1630.4 921.2 L1631.9 918.3 L1633.8 917.7 L1635.6 916.8 L1637.1 918.7 L1638.6 920.5 L1640.4 923.7 L1642.2 927.1 L1643.7 925.6 L1645.2 924.9 L1647.0 922.3 L1648.9 920.5 L1650.4 920.4 L1651.8 923.4 L1654.0 913.1 L1656.3 909.4 L1657.7 914.9 L1659.2 917.5 L1660.7 921.9 L1662.2 926.4 L1664.0 923.9 L1665.8 923.4 L1667.7 926.1 L1669.5 927.8 L1671.4 928.8 L1673.2 928.6 L1675.4 927.1 L1677.6 927.8 L1679.5 926.4 L1681.3 925.6 L1683.2 925.8 L1685.0 923.4 L1687.2 925.4 L1689.4 926.4 L1691.7 924.6 L1693.9 921.9 L1696.1 923.6 L1698.3 923.4 L1700.1 922.7 L1702.0 921.9 L1703.8 923.3 L1705.7 924.9 L1707.1 928.1 L1708.6 928.6 L1710.5 924.8 L1712.3 921.2 L1714.1 925.3 L1716.0 929.3 L1718.2 929.2 L1720.4 927.8 L1722.6 926.9 L1724.8 925.6 L1727.1 926.2 L1729.3 928.6 L1731.5 930.2 L1733.7 928.6 L1735.9 928.6 L1738.1 928.6 L1740.0 928.3 L1741.8 924.9 L1743.6 923.6 L1745.5 921.2 L1747.3 919.4 L1749.2 919.0 L1750.6 924.0 L1752.1 926.4 L1753.6 921.9 L1755.1 917.5 L1757.3 912.4 L1758.8 915.1 L1760.2 919.0 L1761.7 921.3 L1763.2 923.4 L1765.0 922.1 L1766.9 924.2 L1768.7 925.3 L1770.6 925.6 L1772.8 924.8 L1775.0 924.9 L1776.7 926.0 L1778.3 926.7 L1780.0 928.6 L1781.7 926.7 L1783.4 923.6 L1784.8 922.6 L1786.3 920.7 L1788.1 922.4 L1789.9 922.2 L1792.3 915.7 L1794.0 919.7 L1795.7 920.7 L1797.5 921.8 L1799.3 922.2 L1801.5 922.3 L1803.6 922.2 L1805.8 923.2 L1808.0 923.6 L1810.1 923.0 L1812.3 923.6 L1814.1 920.7 L1815.9 918.6 L1817.6 917.5 L1819.2 915.0 L1820.8 917.9 L1822.4 922.2 L1824.6 925.1 L1826.0 918.9 L1827.5 915.7 L1829.3 918.7 L1831.1 922.2 L1832.9 925.7 L1834.7 928.7 L1836.5 927.8 L1838.3 924.4 L1840.1 922.8 L1842.0 922.2 L1844.1 918.6 L1845.9 921.1 L1847.7 925.1 L1849.5 927.0 L1851.4 928.7 L1853.2 926.8 L1855.0 925.1 L1856.4 921.7 L1857.9 917.8 L1860.0 917.1 L1861.8 917.9 L1863.6 919.3 L1865.5 919.2 L1867.3 918.6 L1869.1 921.1 L1870.9 924.4 L1872.7 927.4 L1874.5 928.7 L1876.3 927.9 L1878.1 926.5 L1880.3 924.9 L1882.4 922.2 L1884.3 924.1 L1886.1 926.5 L1887.9 926.5 L1889.7 928.7 L1891.5 928.1 L1893.3 927.2 L1895.1 923.3 L1896.9 919.3 L1899.1 916.4 L1900.9 920.3 L1902.7 922.2 L1904.5 923.8 L1906.3 923.6 L1908.1 921.5 L1909.9 919.3 L1911.4 918.6 L1912.8 917.8 L1914.3 922.2 L1915.7 928.0 L1917.5 927.3 L1919.3 926.5 L1921.1 923.9 L1922.9 920.7 L1924.4 917.9 L1925.8 915.7 L1927.6 912.1 L1930.2 920.7 L1931.6 922.8 L1933.1 926.5 L1934.9 926.6 L1936.7 924.4 L1938.5 924.4 L1940.3 925.8 L1942.1 925.4 L1943.9 922.2" stroke="#957ae1"/>
</g>
<path d="M172.50 975V985M527.00 975V985M881.50 975V985M1236.00 975V985M1590.50 975V985M1945.00 975V985M173 975.10H162.9M173 875.80H162.9M173 776.50H162.9M173 677.20H162.9M173 577.90H162.9M173 478.60H162.9M173 379.30H162.9M173 280.00H162.9M173 180.70H162.9" stroke="#5d5d66" stroke-width="2.2" fill="none"/>
<path d="M173.05 129.9V976.05M171.95 975H1964" stroke="#1f1f26" stroke-width="2.15" fill="none"/>
<text x="172.7" y="1013.8" font-size="25.2" fill="#64646d" text-anchor="middle" textLength="14.4" lengthAdjust="spacingAndGlyphs">0</text>
<text x="527.2" y="1013.8" font-size="25.2" fill="#64646d" text-anchor="middle" textLength="43.3" lengthAdjust="spacingAndGlyphs">200</text>
<text x="881.7" y="1013.8" font-size="25.2" fill="#64646d" text-anchor="middle" textLength="43.3" lengthAdjust="spacingAndGlyphs">400</text>
<text x="1236.2" y="1013.8" font-size="25.2" fill="#64646d" text-anchor="middle" textLength="43.3" lengthAdjust="spacingAndGlyphs">600</text>
<text x="1590.7" y="1013.8" font-size="25.2" fill="#64646d" text-anchor="middle" textLength="43.3" lengthAdjust="spacingAndGlyphs">800</text>
<text x="1945.2" y="1013.8" font-size="25.2" fill="#64646d" text-anchor="middle" textLength="57.8" lengthAdjust="spacingAndGlyphs">1000</text>
<text x="151.9" y="985.5" font-size="25.2" fill="#64646d" text-anchor="end" textLength="35.3" lengthAdjust="spacingAndGlyphs">0.0</text>
<text x="151.9" y="886.2" font-size="25.2" fill="#64646d" text-anchor="end" textLength="35.3" lengthAdjust="spacingAndGlyphs">0.1</text>
<text x="151.9" y="786.9" font-size="25.2" fill="#64646d" text-anchor="end" textLength="35.3" lengthAdjust="spacingAndGlyphs">0.2</text>
<text x="151.9" y="687.6" font-size="25.2" fill="#64646d" text-anchor="end" textLength="35.3" lengthAdjust="spacingAndGlyphs">0.3</text>
<text x="151.9" y="588.3" font-size="25.2" fill="#64646d" text-anchor="end" textLength="35.3" lengthAdjust="spacingAndGlyphs">0.4</text>
<text x="151.9" y="489.0" font-size="25.2" fill="#64646d" text-anchor="end" textLength="35.3" lengthAdjust="spacingAndGlyphs">0.5</text>
<text x="151.9" y="389.7" font-size="25.2" fill="#64646d" text-anchor="end" textLength="35.3" lengthAdjust="spacingAndGlyphs">0.6</text>
<text x="151.9" y="290.4" font-size="25.2" fill="#64646d" text-anchor="end" textLength="35.3" lengthAdjust="spacingAndGlyphs">0.7</text>
<text x="151.9" y="191.1" font-size="25.2" fill="#64646d" text-anchor="end" textLength="35.3" lengthAdjust="spacingAndGlyphs">0.8</text>
<text x="1068.2" y="1068.9" font-size="29.6" fill="#8c8c97" text-anchor="middle" textLength="83.5" lengthAdjust="spacingAndGlyphs">Epoch</text>
<text transform="translate(81.4 643.4) rotate(-90)" font-size="29.6" fill="#8c8c97" textLength="107.6" lengthAdjust="spacingAndGlyphs">Training</text>
<text transform="translate(81.4 525.3) rotate(-90)" font-size="29.6" fill="#8c8c97" textLength="60.6" lengthAdjust="spacingAndGlyphs">Loss</text>
<text x="594.0" y="90.2" font-size="41.6" font-weight="bold" fill="#e8e6e1" textLength="177.0" lengthAdjust="spacingAndGlyphs">Training</text>
<text x="785.0" y="90.2" font-size="41.6" font-weight="bold" fill="#e8e6e1" textLength="285.0" lengthAdjust="spacingAndGlyphs">Convergence</text>
<text x="1085.0" y="90.2" font-size="41.6" font-weight="bold" fill="#e8e6e1" textLength="35.0" lengthAdjust="spacingAndGlyphs">—</text>
<text x="1135.0" y="90.2" font-size="41.6" font-weight="bold" fill="#e8e6e1" textLength="132.8" lengthAdjust="spacingAndGlyphs">Model</text>
<text x="1282.0" y="90.2" font-size="41.6" font-weight="bold" fill="#e8e6e1" textLength="260.0" lengthAdjust="spacingAndGlyphs">Comparison</text>
<rect x="1635.6" y="143.6" width="314.8" height="116.4" rx="4" ry="4" fill="#111114" fill-opacity="0.9" stroke="#222228" stroke-width="1.3"/>
<path d="M1644 164.4H1697.2" stroke="#47b8ad" stroke-width="3" fill="none"/>
<text class="mono" x="1714.5" y="172.8" font-size="27" fill="#8d8b97" textLength="210.7" lengthAdjust="spacingAndGlyphs" xml:space="preserve">GRU     0.0531</text>
<path d="M1791.05 165.95H1802.75M1799.35 162.15L1803.05 165.95L1799.35 169.75" stroke="#8d8b97" stroke-width="1.85" fill="none" stroke-linejoin="miter"/>
<path d="M1644 200.6H1697.2" stroke="#cf9670" stroke-width="3" fill="none"/>
<text class="mono" x="1714.5" y="209.4" font-size="27" fill="#8d8b97" textLength="210.7" lengthAdjust="spacingAndGlyphs" xml:space="preserve">MNN     0.0462</text>
<path d="M1791.05 202.55H1802.75M1799.35 198.75L1803.05 202.55L1799.35 206.35" stroke="#8d8b97" stroke-width="1.85" fill="none" stroke-linejoin="miter"/>
<path d="M1644 237.2H1697.2" stroke="#957ae1" stroke-width="3" fill="none"/>
<text class="mono" x="1714.5" y="245.9" font-size="27" fill="#8d8b97" textLength="225.8" lengthAdjust="spacingAndGlyphs" xml:space="preserve">LSTM     0.0515</text>
<path d="M1806.10 239.05H1817.80M1814.40 235.25L1818.10 239.05L1814.40 242.85" stroke="#8d8b97" stroke-width="1.85" fill="none" stroke-linejoin="miter"/>
</svg></body></html>
